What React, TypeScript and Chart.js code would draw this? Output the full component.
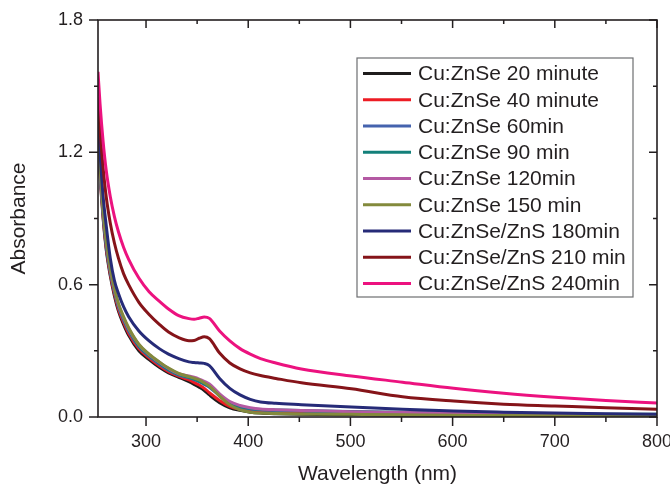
import React, { useEffect, useRef } from "react";
import { Chart, registerables } from "chart.js";

Chart.register(...registerables);

// Wavelength sample points (nm)
const wavelengths = [253, 255, 258, 261, 265, 269, 273, 278, 283, 293, 303, 313, 322, 332, 342, 347, 352, 357, 362, 372, 382, 392, 402, 412, 427, 452, 501, 551, 601, 650, 700, 750, 800];

const seriesLabels = [
  "Cu:ZnSe 20 minute",
  "Cu:ZnSe 40 minute",
  "Cu:ZnSe 60min",
  "Cu:ZnSe 90 min",
  "Cu:ZnSe 120min",
  "Cu:ZnSe 150 min",
  "Cu:ZnSe/ZnS 180min",
  "Cu:ZnSe/ZnS 210 min",
  "Cu:ZnSe/ZnS 240min",
];

const seriesColors = ["#1f1c1d", "#ed1c24", "#4563ae", "#13807a", "#b459a3", "#838a3c", "#262b78", "#851419", "#ec127f"];

const s20 = [1.3, 1.1, 0.9, 0.76, 0.64, 0.55, 0.48, 0.42, 0.37, 0.3, 0.26, 0.225, 0.2, 0.18, 0.16, 0.148, 0.135, 0.12, 0.1, 0.065, 0.042, 0.03, 0.022, 0.018, 0.015, 0.012, 0.01, 0.008, 0.007, 0.006, 0.005, 0.004, 0.004];
const s40 = [1.31, 1.11, 0.91, 0.77, 0.65, 0.56, 0.49, 0.43, 0.38, 0.31, 0.268, 0.232, 0.206, 0.185, 0.168, 0.157, 0.145, 0.13, 0.11, 0.075, 0.048, 0.035, 0.028, 0.024, 0.022, 0.02, 0.017, 0.014, 0.012, 0.011, 0.009, 0.008, 0.006];
const s60 = [1.32, 1.12, 0.92, 0.78, 0.66, 0.57, 0.5, 0.44, 0.39, 0.318, 0.275, 0.24, 0.212, 0.19, 0.178, 0.17, 0.16, 0.148, 0.135, 0.095, 0.06, 0.045, 0.036, 0.032, 0.03, 0.027, 0.022, 0.019, 0.016, 0.014, 0.012, 0.011, 0.01];
const s90 = [1.33, 1.13, 0.93, 0.79, 0.665, 0.575, 0.505, 0.445, 0.395, 0.322, 0.278, 0.243, 0.215, 0.192, 0.18, 0.172, 0.162, 0.15, 0.138, 0.098, 0.062, 0.047, 0.038, 0.034, 0.032, 0.029, 0.025, 0.021, 0.018, 0.016, 0.014, 0.013, 0.012];
const s120 = [1.33, 1.14, 0.94, 0.8, 0.67, 0.58, 0.51, 0.45, 0.4, 0.328, 0.283, 0.248, 0.22, 0.196, 0.186, 0.18, 0.172, 0.162, 0.15, 0.105, 0.07, 0.052, 0.042, 0.036, 0.033, 0.03, 0.024, 0.02, 0.017, 0.015, 0.013, 0.011, 0.01];
const s150 = [1.34, 1.14, 0.94, 0.8, 0.675, 0.585, 0.515, 0.455, 0.405, 0.33, 0.285, 0.25, 0.222, 0.198, 0.183, 0.176, 0.168, 0.155, 0.14, 0.095, 0.055, 0.032, 0.022, 0.018, 0.016, 0.014, 0.012, 0.01, 0.008, 0.007, 0.006, 0.005, 0.004];
const s180 = [1.36, 1.2, 1.0, 0.87, 0.72, 0.62, 0.56, 0.5, 0.455, 0.39, 0.345, 0.31, 0.285, 0.265, 0.25, 0.247, 0.245, 0.243, 0.233, 0.175, 0.13, 0.1, 0.08, 0.068, 0.062, 0.056, 0.045, 0.035, 0.027, 0.022, 0.018, 0.015, 0.012];
const s210 = [1.45, 1.3, 1.13, 1.0, 0.88, 0.79, 0.72, 0.65, 0.6, 0.52, 0.465, 0.42, 0.385, 0.36, 0.346, 0.347, 0.357, 0.364, 0.355, 0.29, 0.245, 0.218, 0.2, 0.188, 0.175, 0.155, 0.128, 0.092, 0.072, 0.058, 0.05, 0.042, 0.035];
const s240 = [1.565, 1.42, 1.25, 1.12, 1.0, 0.91, 0.84, 0.77, 0.715, 0.63, 0.568, 0.525, 0.49, 0.46, 0.446, 0.443, 0.448, 0.453, 0.447, 0.39, 0.345, 0.31, 0.285, 0.265, 0.245, 0.218, 0.186, 0.158, 0.13, 0.108, 0.09, 0.075, 0.063];

const seriesValues = [s20, s40, s60, s90, s120, s150, s180, s210, s240];

const xMajorTicks = [300, 400, 500, 600, 700, 800];
const xMinorTicks = [350, 450, 550, 650, 750];
const yMajorTicks = [0, 0.6, 1.2, 1.8];
const yMinorTicks = [0.3, 0.9, 1.5];

const AXIS_COLOR = "#231f20";
const FONT = '"Liberation Sans", Arial, sans-serif';

const framePlugin = {
  id: "frameAndLegend",
  afterDraw(chart: any) {
    const { ctx, chartArea, scales } = chart;
    const { left, right, top, bottom } = chartArea;
    const xs = scales.x;
    const ys = scales.y;
    ctx.save();
    ctx.strokeStyle = AXIS_COLOR;
    ctx.lineWidth = 1.5;
    ctx.beginPath();
    const tick = (x1: number, y1: number, x2: number, y2: number) => {
      ctx.moveTo(x1, y1);
      ctx.lineTo(x2, y2);
    };
    xMajorTicks.forEach((v) => {
      const p = xs.getPixelForValue(v);
      tick(p, bottom, p, bottom + 9);
      tick(p, top, p, top + 8);
    });
    xMinorTicks.forEach((v) => {
      const p = xs.getPixelForValue(v);
      tick(p, bottom, p, bottom + 5);
      tick(p, top, p, top + 4);
    });
    yMajorTicks.forEach((v) => {
      const p = ys.getPixelForValue(v);
      tick(left - 9, p, left, p);
      tick(right, p, right - 8, p);
    });
    yMinorTicks.forEach((v) => {
      const p = ys.getPixelForValue(v);
      tick(left - 4, p, left, p);
      tick(right, p, right - 4, p);
    });
    ctx.stroke();
    ctx.lineWidth = 1.6;
    ctx.strokeRect(left, top, right - left, bottom - top);

    // Legend
    const bx = 357, by = 58, bw = 276, bh = 239;
    ctx.fillStyle = "#ffffff";
    ctx.fillRect(bx, by, bw, bh);
    ctx.strokeStyle = "#6d6e71";
    ctx.lineWidth = 1.2;
    ctx.strokeRect(bx, by, bw, bh);
    ctx.font = "21px " + FONT;
    ctx.textBaseline = "middle";
    ctx.textAlign = "left";
    seriesLabels.forEach((label, i) => {
      const ry = 73.5 + i * 26.25;
      ctx.strokeStyle = seriesColors[i];
      ctx.lineWidth = 3;
      ctx.beginPath();
      ctx.moveTo(363, ry);
      ctx.lineTo(411, ry);
      ctx.stroke();
      ctx.fillStyle = AXIS_COLOR;
      ctx.fillText(label, 418, ry + 1);
    });
    ctx.restore();
  },
};

const zeroPad = (s: any) => {
  s.paddingLeft = 0;
  s.paddingRight = 0;
  s.paddingTop = 0;
  s.paddingBottom = 0;
};

export default function App() {
  const canvasRef = useRef<HTMLCanvasElement | null>(null);

  useEffect(() => {
    if (!canvasRef.current) return;
    const datasets = seriesValues.map((vals, i) => ({
      label: seriesLabels[i],
      data: wavelengths.map((w, j) => ({ x: w, y: vals[j] })),
      borderColor: seriesColors[i],
      backgroundColor: seriesColors[i],
      borderWidth: 3,
      pointRadius: 0,
      fill: false,
      cubicInterpolationMode: "monotone" as const,
      order: seriesValues.length - 1 - i,
    }));
    const chart = new Chart(canvasRef.current, {
      type: "line",
      data: { datasets },
      options: {
        animation: false,
        responsive: false,
        maintainAspectRatio: false,
        layout: { padding: { left: 0, top: 20, right: 13, bottom: 0 } },
        plugins: { legend: { display: false }, tooltip: { enabled: false } },
        scales: {
          x: {
            type: "linear",
            min: 253,
            max: 800,
            afterFit: (s: any) => {
              s.height = 69;
              zeroPad(s);
            },
            afterBuildTicks: (s: any) => {
              s.ticks = xMajorTicks.map((v) => ({ value: v }));
            },
            grid: { display: false, drawTicks: false },
            border: { display: false },
            ticks: {
              padding: 14,
              color: AXIS_COLOR,
              font: { family: FONT, size: 18 },
              maxRotation: 0,
              callback: (v: any) => String(v),
            },
            title: {
              display: true,
              text: "Wavelength (nm)",
              color: AXIS_COLOR,
              font: { family: FONT, size: 21, lineHeight: 1.1 },
              padding: { top: 0, bottom: 0 },
            },
          },
          y: {
            type: "linear",
            min: 0,
            max: 1.8,
            afterFit: (s: any) => {
              s.width = 98;
              zeroPad(s);
            },
            afterBuildTicks: (s: any) => {
              s.ticks = yMajorTicks.map((v) => ({ value: v }));
            },
            grid: { display: false, drawTicks: false },
            border: { display: false },
            ticks: {
              padding: 15,
              color: AXIS_COLOR,
              font: { family: FONT, size: 18 },
              callback: (v: any) => Number(v).toFixed(1),
            },
            title: {
              display: true,
              text: "Absorbance",
              color: AXIS_COLOR,
              font: { family: FONT, size: 21, lineHeight: 1.2 },
              padding: { top: 7, bottom: 0 },
            },
          },
        },
      },
      plugins: [framePlugin],
    });
    return () => chart.destroy();
  }, []);

  return (
    <div style={{ position: "fixed", left: 0, top: 0, width: 670, height: 486, background: "#fff" }}>
      <canvas ref={canvasRef} width={670} height={486} style={{ display: "block" }} />
    </div>
  );
}
